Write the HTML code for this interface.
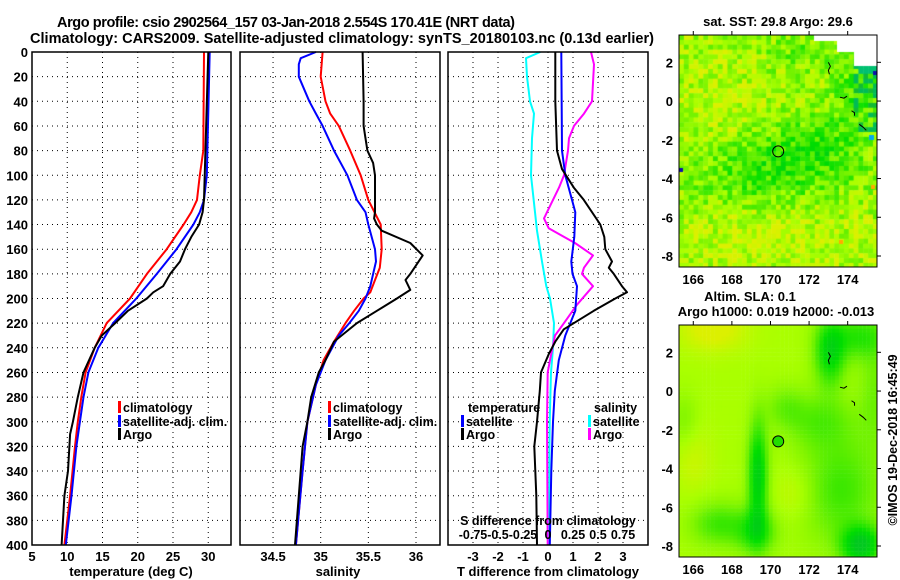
<!DOCTYPE html>
<html><head><meta charset="utf-8">
<style>
html,body{margin:0;padding:0;background:#fff;}
#wrap{position:relative;width:900px;height:580px;overflow:hidden;}
svg text{font-family:"Liberation Sans",sans-serif;font-weight:bold;fill:#000;}
canvas{position:absolute;}
</style></head>
<body>
<div id="wrap">
<canvas id="sst" width="198" height="232" style="left:679px;top:35px"></canvas>
<canvas id="sla" width="198" height="232" style="left:679px;top:325px"></canvas>
<svg id="svg" width="900" height="580" style="position:absolute;left:0;top:0"></svg>
</div>
<script>
// ---- data (depth in m) ----
const tClimD=[0,80,100,120,130,140,160,180,200,220,240,260,280,300,320,360,400];
const tClimV=[29.4,29.3,28.8,28.4,27.6,26.5,24.1,21.3,18.9,15.6,13.9,12.6,12.0,11.5,11.1,10.4,9.6];
const tSatD=[0,100,120,130,140,160,180,200,220,240,260,280,300,320,360,400];
const tSatV=[30.2,29.8,29.4,28.8,27.9,25.5,22.7,19.8,16.5,14.4,13.0,12.3,11.8,11.3,10.6,9.8];
const tArgoD=[0,120,130,140,150,160,170,180,190,195,200,210,220,230,240,260,280,300,310,340,360,380,400];
const tArgoV=[30.0,29.4,29.2,28.7,27.6,26.7,26.0,24.6,23.6,22.2,21.3,18.6,16.8,14.9,13.9,12.3,11.5,10.8,10.4,10.1,9.6,9.4,9.2];
const sClimD=[0,20,40,50,60,80,100,120,140,160,175,185,195,200,210,220,235,250,270,300,340,400];
const sClimV=[35.02,35.0,35.05,35.1,35.19,35.31,35.42,35.5,35.63,35.64,35.62,35.57,35.52,35.45,35.35,35.26,35.14,35.03,34.95,34.86,34.81,34.74];
const sSatD=[0,5,10,20,40,50,60,80,100,120,130,140,160,170,190,200,210,220,230,250,270,300,340,400];
const sSatV=[34.95,34.79,34.77,34.77,34.88,34.95,35.02,35.14,35.28,35.38,35.47,35.5,35.57,35.58,35.52,35.47,35.4,35.3,35.19,35.05,34.95,34.86,34.81,34.74];
const sArgoD=[0,40,60,70,80,90,100,130,135,140,145,155,165,180,185,193,200,210,220,235,250,260,280,300,320,360,400];
const sArgoV=[35.44,35.45,35.45,35.47,35.49,35.55,35.57,35.57,35.56,35.59,35.64,35.94,36.07,35.94,35.89,35.94,35.80,35.59,35.38,35.14,35.05,34.98,34.9,34.86,34.81,34.77,34.73];
const dtArgoD=[0,40,80,95,110,120,140,150,160,170,175,180,190,195,200,210,225,235,245,260,275,300,320,340,360,400];
const dtArgoV=[0.29,0.29,0.36,0.56,1.03,1.43,2.09,2.25,2.29,2.56,2.43,2.63,2.96,3.16,2.69,1.83,0.63,0.29,0.03,-0.28,-0.33,-0.44,-0.55,-0.51,-0.47,-0.44];
const dtSatD=[0,80,100,120,130,150,170,180,190,210,230,250,275,300,340,400];
const dtSatV=[0.53,0.56,0.69,0.96,1.09,1.05,0.93,0.98,1.16,1.09,0.69,0.43,0.27,0.2,0.13,0.07];
const dsSatD=[0,5,20,40,50,70,100,130,145,170,190,200,220,240,260,300,400];
const dsSatV=[-0.077,-0.22,-0.21,-0.18,-0.14,-0.16,-0.17,-0.13,-0.11,-0.06,-0.017,0.02,0.06,0.05,0.03,0.017,0.007];
const dsArgoD=[0,10,40,50,60,70,80,100,110,130,135,143,150,155,165,175,180,190,205,220,230,250,260,300,400];
const dsArgoV=[0.43,0.46,0.44,0.36,0.26,0.21,0.2,0.16,0.11,-0.01,-0.04,0.007,0.16,0.27,0.45,0.36,0.34,0.45,0.29,0.16,0.07,0.02,-0.003,-0.01,-0.003];
const depthTicks=[0,20,40,60,80,100,120,140,160,180,200,220,240,260,280,300,320,340,360,380,400];
const tTicks=[5,10,15,20,25,30];
const sTicks=[34.5,35,35.5,36];
const sTickLabels=["34.5","35","35.5","36"];
const dtTicks=[-3,-2,-1,0,1,2,3];
const dsTicks=[-0.75,-0.5,-0.25,0,0.25,0.5,0.75];
const dsTickLabels=["-0.75","-0.5","-0.25","0","0.25","0.5","0.75"];
const lonTicks=[166,168,170,172,174];
const latTicks=[2,0,-2,-4,-6,-8];
const floatLon=170.4, floatLat=-2.6;

// ---- scales ----
const yD=d=>52+d*1.2325;
const xT=t=>32+(t-5)*7.05;
const xS=s=>320.7+(s-35)*95.3;
const xDT=t=>548+t*25;
const xDS=s=>548+s*100;
const mX=lon=>679+(lon-165.26)*19.3;
const mY=lat=>35+(3.41-lat)*19.37;

const NS="http://www.w3.org/2000/svg";
const svg=document.getElementById('svg');
function mk(tag,attrs,parent){const e=document.createElementNS(NS,tag);for(const k in attrs)e.setAttribute(k,attrs[k]);(parent||svg).appendChild(e);return e;}
function txt(x,y,s,size,anchor,parent){const e=mk('text',{x:x,y:y,'font-size':size,'text-anchor':anchor||'middle'},parent);e.textContent=s;return e;}

const panels=[{l:32,r:231},{l:240,r:440},{l:448,r:648}];
const top_=52,bot=545;
panels.forEach((p,i)=>{
  depthTicks.forEach(d=>{
    if(d===0||d===400)return;
    const g=mk('line',{x1:p.l,x2:p.r,y1:yD(d),y2:yD(d),stroke:'#000','stroke-width':1,'stroke-dasharray':'1,4'});
    
    
  });
});
function vgrid(x){
  const g=mk('line',{x1:x,x2:x,y1:top_,y2:bot,stroke:'#000','stroke-width':1,'stroke-dasharray':'1,4'});
  
  
}
tTicks.forEach(t=>{if(t>5)vgrid(xT(t));});
sTicks.forEach(s=>vgrid(xS(s)));
dtTicks.forEach(t=>vgrid(xDT(t)));

depthTicks.forEach(d=>{
  const t=txt(28,yD(d)+5,String(d),13,'end');
  
  
});
tTicks.forEach(t=>{
  const e=txt(xT(t),561,String(t),13);
  
  
});
sTicks.forEach((s,i)=>{
  const e=txt(xS(s),561,sTickLabels[i],13);
  
  
});
dtTicks.forEach(t=>{
  const e=txt(xDT(t),561,String(t),13);
  
  
});
let e;
e=txt(131,576,'temperature (deg C)',13);


e=txt(338,576,'salinity',13);


e=txt(548,576,'T difference from climatology',13);



function line(D,V,xf,color,w,name){
  const pts=D.map((d,i)=>xf(V[i]).toFixed(1)+','+yD(d).toFixed(1)).join(' ');
  const p=mk('polyline',{points:pts,fill:'none',stroke:color,'stroke-width':w,'stroke-linejoin':'round'});
  
  
}
line(tClimD,tClimV,xT,'#ff0000',2,'temperature-climatology-line');
line(tSatD,tSatV,xT,'#0000ff',2,'temperature-satellite-line');
line(tArgoD,tArgoV,xT,'#000000',2,'temperature-argo-line');
line(sClimD,sClimV,xS,'#ff0000',2,'salinity-climatology-line');
line(sSatD,sSatV,xS,'#0000ff',2,'salinity-satellite-line');
line(sArgoD,sArgoV,xS,'#000000',2,'salinity-argo-line');
line(dsSatD,dsSatV,xDS,'#00ffff',2,'s-diff-satellite-line');
line(dsArgoD,dsArgoV,xDS,'#ff00ff',2,'s-diff-argo-line');
line(dtSatD,dtSatV,xDT,'#0000ff',2,'t-diff-satellite-line');
line(dtArgoD,dtArgoV,xDT,'#000000',2,'t-diff-argo-line');

// legends
function leg(x,y,color,label,name){
  const r=mk('rect',{x:x,y:y-11,width:3,height:12,fill:color});
  
  
  const t=txt(x+5,y,label,12.5,'start');
  
  
}
leg(118,412,'#ff0000','climatology','legend-t-climatology');
leg(118,426,'#0000ff','satellite-adj. clim.','legend-t-satellite');
leg(118,439,'#000000','Argo','legend-t-argo');
leg(328,412,'#ff0000','climatology','legend-s-climatology');
leg(328,426,'#0000ff','satellite-adj. clim.','legend-s-satellite');
leg(328,439,'#000000','Argo','legend-s-argo');
e=txt(468,412,'temperature',12.5,'start');


leg(461,426,'#0000ff','satellite','legend-dt-satellite');
leg(461,439,'#000000','Argo','legend-dt-argo');
e=txt(594,412,'salinity',12.5,'start');


leg(588,426,'#00ffff','satellite','legend-ds-satellite');
leg(588,439,'#ff00ff','Argo','legend-ds-argo');
e=txt(548,525,'S difference from climatology',12.5);


dsTicks.forEach((s,i)=>{
  const t=txt(xDS(s),539,dsTickLabels[i],12.5);
  
  
});

// panel frames
panels.forEach((p,i)=>{
  const r=mk('rect',{x:p.l,y:top_,width:p.r-p.l,height:bot-top_,fill:'none',stroke:'#000','stroke-width':1.5});
  
  
});

// titles
e=txt(286,27,'Argo profile: csio 2902564_157 03-Jan-2018 2.554S 170.41E (NRT data)',14.5);
e.setAttribute('textLength','458');


e=txt(342,43,'Climatology: CARS2009. Satellite-adjusted climatology: synTS_20180103.nc (0.13d earlier)',14.5);
e.setAttribute('textLength','624');



// maps frames & ticks
[[35,'sst'],[325,'sla']].forEach(([oy,nm])=>{
  const off=oy-35;
  const r=mk('rect',{x:679,y:oy,width:198,height:232,fill:'none',stroke:'#000','stroke-width':1});
  
  
  lonTicks.forEach(l=>{
    const t=txt(mX(l),oy+249,String(l),13);
    
    
    const k=mk('line',{x1:mX(l),x2:mX(l),y1:oy-4,y2:oy,stroke:'#000'});
    
    
  });
  latTicks.forEach(l=>{
    const t=txt(673,mY(l)+off+5,String(l),13,'end');
    
    
    const k=mk('line',{x1:877,x2:881,y1:mY(l)+off,y2:mY(l)+off,stroke:'#000'});
    
    
  });
  const c=mk('circle',{cx:mX(floatLon),cy:mY(floatLat)+off,r:5.5,fill:nm==='sla'?'#22dd00':'none',stroke:'#000','stroke-width':1});
  
  
  const isl=mk('path',{d:`M${mX(173)} ${mY(2)+off} l2 4 l-2 4 l1 4 M${mX(173.6)} ${mY(0.2)+off} l4 1 l3 -2 M${mX(174.2)} ${mY(-0.5)+off} l3 2 l0 3 M${mX(174.6)} ${mY(-1.2)+off} l4 3 l3 3`,fill:'none',stroke:'#000','stroke-width':1});
  
  
});
e=txt(778,26,'sat. SST: 29.8 Argo: 29.6',13);


e=txt(750,301,'Altim. SLA: 0.1',13);


e=txt(776,316,'Argo h1000: 0.019 h2000: -0.013',13);


e=mk('text',{x:0,y:0,'font-size':12.5,'text-anchor':'middle',transform:'translate(897,440) rotate(-90)'});
e.textContent='©IMOS 19-Dec-2018 16:45:49';



// ---- map rasters (decorative textures) ----
function hash(i,j){let h=(i*374761393+j*668265263)>>>0;h=((h^(h>>>13))*1274126177)>>>0;return (h&0xffff)/65535;}
const stops=[[0,[0,200,30]],[0.25,[0,222,0]],[0.45,[60,232,0]],[0.65,[130,245,0]],[0.8,[170,255,0]],[1,[220,240,0]]];
function cmap(v){v=Math.max(0,Math.min(1,v));for(let k=1;k<stops.length;k++){if(v<=stops[k][0]){const a=stops[k-1],b=stops[k];const f=(v-a[0])/(b[0]-a[0]);return 'rgb('+a[1].map((c,i)=>Math.round(c+(b[1][i]-c)*f)).join(',')+')';}}return 'rgb(220,240,0)';}
function gs(lon,lat,x0,y0,sx,sy){return Math.exp(-((lon-x0)**2)/(2*sx*sx)-((lat-y0)**2)/(2*sy*sy));}
(function(){
  const c=document.getElementById('sst').getContext('2d');
  const cs=4.85;
  for(let i=0;i<41;i++)for(let j=0;j<48;j++){
    const lon=165.26+(i+0.5)*0.25,lat=3.41-(j+0.5)*0.25;
    let v=0.78-0.38*gs(lon,lat,170,-3.5,2.8,1.3)-0.25*gs(lon,lat,172.5,-2.2,1.5,1)
      -0.3*gs(lon,lat,174.5,0.5,1,1.5)+0.12*gs(lon,lat,170,-7,2.5,1.2)+0.1*gs(lon,lat,167.5,-0.5,1.5,1.5)
      -0.2*gs(lon,lat,171.5,2.5,1.2,0.8);
    v+=(hash(i,j)-0.5)*0.5;
    c.fillStyle=cmap(v);
    if(lon>174.3&&lat>-1.5&&lat<1.8&&hash(j,i)>0.55) c.fillStyle=hash(i+7,j)>0.5?'#00bb55':'#11bb33';
    if(lon>174.5&&lat>1.3&&lat<2.2) c.fillStyle='#00c070';
    c.fillRect(i*cs,j*cs,cs+0.5,cs+0.5);
  }
  c.fillStyle='#fff';c.fillRect(158,0,40,17);c.fillRect(175,17,23,14);c.fillRect(135,0,23,6);
  c.fillStyle='#1111aa';c.fillRect(0,133,4,4);c.fillRect(194,36,4,4);
  c.fillStyle='#00aaee';c.fillRect(190,100,5,5);
  c.fillStyle='#ffaa00';c.fillRect(192,150,4,4);c.fillRect(160,205,4,4);
})();
(function(){
  const c=document.getElementById('sla').getContext('2d');
  const cs=3.9;
  for(let i=0;i<51;i++)for(let j=0;j<60;j++){
    const lon=165.26+(i+0.5)*0.2,lat=3.41-(j+0.5)*0.2;
    let v=0.8
      -0.7*gs(lon,lat,169.3,-4.3,0.35,1.9)
      -0.45*gs(lon,lat,169.2,-7.2,0.7,0.8)
      -0.6*gs(lon,lat,173.0,2.0,0.55,1.2)
      -0.4*gs(lon,lat,174.5,2.8,1.0,0.8)
      -0.75*gs(lon,lat,174.6,-7.9,0.7,0.7)
      -0.35*gs(lon,lat,173.5,-5,1.5,2)
      +0.25*gs(lon,lat,167.0,3.2,1.2,0.8)
      +0.12*gs(lon,lat,166.0,-3.5,0.7,1.2)
      +0.15*gs(lon,lat,171.3,-5.2,0.8,1.0)
      -0.35*gs(lon,lat,167.3,-6.8,1.0,0.8)
      -0.25*gs(lon,lat,172.5,-1.5,1.2,1.0)
      -0.2*gs(lon,lat,175.3,0,0.6,2)
      -0.2*gs(lon,lat,170.7,-0.8,0.7,0.8)
      -0.15*gs(lon,lat,165.5,-1.5,0.5,1.0);
    c.fillStyle=cmap(v);
    c.fillRect(i*cs,j*cs,cs+0.5,cs+0.5);
  }
})();
</script>
</body></html>
